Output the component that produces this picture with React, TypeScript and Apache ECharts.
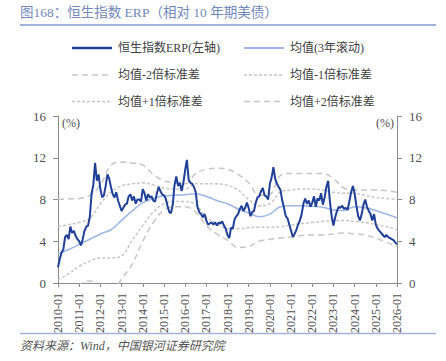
import React, { useEffect, useRef } from "react";
import * as echarts from "echarts";

// ---- Data ----
const startYear = 2010;
const endYear = 2026;

const erp2010 = [1.5, 2.3, 2.9, 3.2, 4.4, 4.6, 4.2, 5.4, 4.8, 5.0, 4.5, 4.2];
const erp2011 = [4.0, 3.6, 4.2, 5.0, 5.4, 5.5, 6.3, 8.5, 9.4, 11.5, 9.8, 10.4];
const erp2012 = [9.0, 8.2, 8.4, 9.3, 10.4, 10.0, 9.2, 8.5, 8.2, 8.7, 7.9, 7.4];
const erp2013 = [6.9, 7.2, 7.5, 7.6, 8.3, 8.5, 7.9, 8.3, 7.6, 8.0, 8.0, 7.8];
const erp2014 = [9.0, 8.6, 7.9, 8.5, 8.2, 8.3, 7.9, 7.8, 8.6, 9.2, 8.8, 8.5];
const erp2015 = [8.4, 8.1, 7.4, 6.8, 6.7, 7.5, 9.4, 10.2, 9.3, 9.6, 8.8, 9.6];
const erp2016 = [10.8, 11.8, 9.9, 9.6, 9.5, 9.2, 8.7, 7.3, 6.8, 6.6, 6.3, 6.6];
const erp2017 = [6.0, 5.6, 5.7, 5.8, 5.6, 5.8, 5.5, 5.8, 5.7, 5.9, 5.5, 5.2];
const erp2018 = [4.6, 4.3, 5.3, 5.2, 6.1, 6.4, 6.6, 7.1, 7.4, 6.9, 7.2, 7.7];
const erp2019 = [7.2, 6.4, 6.8, 6.9, 7.7, 8.2, 8.3, 8.8, 9.1, 8.4, 8.3, 8.0];
const erp2020 = [9.5, 10.1, 11.1, 10.0, 9.5, 9.2, 8.9, 7.9, 7.2, 6.4, 6.2, 5.6];
const erp2021 = [5.0, 4.4, 4.7, 5.1, 5.6, 6.0, 6.6, 7.6, 8.1, 7.6, 7.9, 7.3];
const erp2022 = [7.7, 8.3, 7.3, 8.1, 7.9, 8.6, 7.5, 8.2, 9.2, 9.8, 7.8, 6.4];
const erp2023 = [5.5, 6.3, 6.9, 7.3, 7.2, 7.4, 7.1, 7.2, 7.0, 7.8, 8.7, 9.3];
const erp2024 = [8.6, 7.4, 6.4, 6.0, 6.6, 7.5, 8.0, 7.3, 6.9, 6.6, 6.0, 6.6];
const erp2025 = [5.6, 5.2, 5.0, 4.8, 4.6, 4.4, 4.6, 4.4, 4.3, 4.2, 4.1, 3.9];
const erp2026 = [3.7];

// half-year band points (Jan / Jul)
const meanVals = [2.8, 3.2, 3.7, 4.2, 4.7, 5.1, 6.0, 6.9, 7.7, 8.1, 8.35, 8.4, 8.45, 8.55, 8.3, 7.9, 7.6, 7.1, 6.7, 6.35, 6.6, 7.3, 7.4, 7.4, 7.35, 7.25, 7.0, 6.95, 7.3, 7.2, 6.95, 6.6, 6.25];
const plus2Vals = [8.0, 8.05, 8.1, 8.4, 9.4, 11.3, 11.6, 11.5, 11.3, 10.4, 9.8, 9.6, 9.5, 10.5, 10.9, 11.0, 10.9, 10.4, 9.6, 8.4, 8.5, 10.3, 10.5, 10.5, 10.5, 10.5, 10.0, 9.1, 8.9, 8.9, 8.9, 8.85, 8.7];
const plus1Vals = [5.4, 5.6, 5.8, 6.2, 7.6, 8.7, 9.3, 9.5, 9.6, 9.4, 9.1, 9.0, 9.0, 9.5, 9.5, 9.5, 9.35, 8.9, 8.0, 7.4, 7.6, 8.7, 8.9, 9.0, 9.0, 8.9, 8.7, 8.6, 8.6, 8.4, 8.2, 8.1, 8.0];
const minus1Vals = [0.3, 0.9, 1.6, 2.1, 2.4, 2.4, 2.6, 4.1, 5.5, 6.8, 7.6, 7.8, 7.8, 7.5, 6.3, 5.7, 5.2, 5.2, 5.3, 5.35, 5.35, 5.4, 5.55, 5.7, 5.8, 5.9, 6.0, 6.0, 5.9, 5.8, 5.6, 5.4, 5.1];
const minus2Vals = [-2.4, -1.5, -0.2, 0.2, -0.5, -1.0, 0.4, 1.8, 4.0, 5.8, 7.0, 7.3, 7.3, 6.8, 5.5, 4.7, 4.1, 3.4, 3.5, 4.0, 4.2, 4.3, 4.4, 4.55, 4.6, 4.6, 4.7, 4.8, 4.7, 4.6, 4.3, 3.9, 3.5];

const yTicks = [0, 4, 8, 12, 16];

const NAME_ERP = "恒生指数ERP(左轴)";
const NAME_MEAN = "均值(3年滚动)";
const NAME_M2 = "均值-2倍标准差";
const NAME_M1 = "均值-1倍标准差";
const NAME_P1 = "均值+1倍标准差";
const NAME_P2 = "均值+2倍标准差";

// ---- build ----
const pad = (n: number) => (n < 10 ? "0" + n : "" + n);
const categories: string[] = [];
for (let y = startYear; y <= endYear; y++) {
  for (let m = 1; m <= 12; m++) {
    if (y === endYear && m > 1) break;
    categories.push(`${y}-${pad(m)}`);
  }
}
const erpVals = [
  ...erp2010, ...erp2011, ...erp2012, ...erp2013, ...erp2014, ...erp2015,
  ...erp2016, ...erp2017, ...erp2018, ...erp2019, ...erp2020, ...erp2021,
  ...erp2022, ...erp2023, ...erp2024, ...erp2025, ...erp2026,
];
const bandDates: string[] = [];
for (let y = startYear; y <= endYear; y++) {
  bandDates.push(`${y}-01`);
  if (y < endYear) bandDates.push(`${y}-07`);
}
const pairs = (vals: number[]) => vals.map((v, i) => [bandDates[i], v]);

const SERIF = "'Liberation Serif', 'Times New Roman', 'Noto Sans CJK SC', serif";
const GRAY_DASH = "#c6c6c6";
const ERP_COLOR = "#1f3f98";
const MEAN_COLOR = "#9fb7e6";
const LONG_DASH = [6, 4];
const SHORT_DASH = [3, 2];

// legend drawn as graphic: [name, color, width, dash, x, y]
const legendItems: [string, string, number, number[] | null, number, number][] = [
  [NAME_ERP, ERP_COLOR, 2.5, null, 72, 48],
  [NAME_MEAN, MEAN_COLOR, 2, null, 244, 48],
  [NAME_M2, GRAY_DASH, 1.5, LONG_DASH, 72, 75],
  [NAME_M1, GRAY_DASH, 1.5, SHORT_DASH, 244, 75],
  [NAME_P1, GRAY_DASH, 1.5, SHORT_DASH, 72, 101.5],
  [NAME_P2, GRAY_DASH, 1.5, LONG_DASH, 244, 101.5],
];
const legendGraphics: any[] = [];
legendItems.forEach(([name, color, w, dash, x, y]) => {
  legendGraphics.push({
    type: "line",
    shape: { x1: x, y1: y, x2: x + 40, y2: y },
    style: { stroke: color, lineWidth: w, lineDash: dash || undefined },
  });
  legendGraphics.push({
    type: "text",
    x: x + 46,
    y: y,
    style: {
      text: name,
      fontSize: 12,
      fill: "#404040",
      fontFamily: SERIF,
      verticalAlign: "middle",
      textAlign: "left",
    },
  });
});

const bandSeries = (name: string, vals: number[], dash: number[]) => ({
  name,
  type: "line",
  data: pairs(vals),
  smooth: 0.4,
  symbol: "none",
  lineStyle: { color: GRAY_DASH, width: 1.5, type: dash },
  itemStyle: { color: GRAY_DASH },
});

const option: any = {
  animation: false,
  backgroundColor: "#ffffff",
  grid: { left: 58, right: 49, top: 116, bottom: 78 },
  xAxis: {
    type: "category",
    data: categories,
    boundaryGap: false,
    axisLine: { lineStyle: { color: "#8c8c8c", width: 1 } },
    axisTick: { show: true, interval: 11, length: 4, lineStyle: { color: "#8c8c8c" } },
    axisLabel: {
      interval: 11,
      rotate: 90,
      margin: 10,
      fontSize: 12,
      color: "#505050",
      fontFamily: SERIF,
    },
    splitLine: { show: false },
  },
  yAxis: [
    {
      type: "value",
      min: yTicks[0],
      max: yTicks[yTicks.length - 1],
      interval: 4,
      position: "left",
      axisLine: { show: true, lineStyle: { color: "#8c8c8c" } },
      axisTick: { show: true, length: 5, lineStyle: { color: "#8c8c8c" } },
      axisLabel: { margin: 12, fontSize: 13, color: "#505050", fontFamily: SERIF },
      splitLine: { show: false },
    },
    {
      type: "value",
      min: yTicks[0],
      max: yTicks[yTicks.length - 1],
      interval: 4,
      position: "right",
      axisLine: { show: true, lineStyle: { color: "#8c8c8c" } },
      axisTick: { show: true, length: 5, lineStyle: { color: "#8c8c8c" } },
      axisLabel: { margin: 12, fontSize: 13, color: "#505050", fontFamily: SERIF },
      splitLine: { show: false },
    },
  ],
  series: [
    bandSeries(NAME_M2, minus2Vals, LONG_DASH),
    bandSeries(NAME_M1, minus1Vals, SHORT_DASH),
    bandSeries(NAME_P1, plus1Vals, SHORT_DASH),
    bandSeries(NAME_P2, plus2Vals, LONG_DASH),
    {
      name: NAME_MEAN,
      type: "line",
      data: pairs(meanVals),
      smooth: 0.4,
      symbol: "none",
      lineStyle: { color: MEAN_COLOR, width: 1.6 },
      itemStyle: { color: MEAN_COLOR },
    },
    {
      name: NAME_ERP,
      type: "line",
      data: erpVals,
      symbol: "none",
      lineStyle: { color: ERP_COLOR, width: 2 },
      itemStyle: { color: ERP_COLOR },
    },
  ],
  graphic: [
    {
      type: "text",
      left: 20,
      top: 6,
      style: {
        text: "图168：恒生指数 ERP（相对 10 年期美债）",
        fontSize: 13.5,
        fill: "#7188bb",
        fontFamily: SERIF,
      },
    },
    {
      type: "line",
      shape: { x1: 20, y1: 25, x2: 436, y2: 25 },
      style: { stroke: "#a4b4d8", lineWidth: 2 },
    },
    ...legendGraphics,
    {
      type: "text",
      left: 62,
      top: 117,
      style: { text: "(%)", fontSize: 12, fill: "#505050", fontFamily: SERIF },
    },
    {
      type: "text",
      right: 52,
      top: 117,
      style: { text: "(%)", fontSize: 12, fill: "#505050", fontFamily: SERIF },
    },
    {
      type: "line",
      shape: { x1: 20, y1: 333.5, x2: 436, y2: 333.5 },
      style: { stroke: "#a4b4d8", lineWidth: 1.5 },
    },
    {
      type: "text",
      left: 20,
      top: 340,
      style: {
        text: "资料来源：Wind，中国银河证券研究院",
        fontSize: 12,
        fontStyle: "italic",
        fill: "#555555",
        fontFamily: SERIF,
      },
    },
  ],
};

export default function App() {
  const ref = useRef<HTMLDivElement>(null);
  useEffect(() => {
    document.body.style.margin = "0";
    const chart = echarts.init(ref.current as HTMLDivElement, null, { renderer: "svg" });
    chart.setOption(option);
    return () => chart.dispose();
  }, []);
  return <div ref={ref} style={{ width: 446, height: 361 }} />;
}
